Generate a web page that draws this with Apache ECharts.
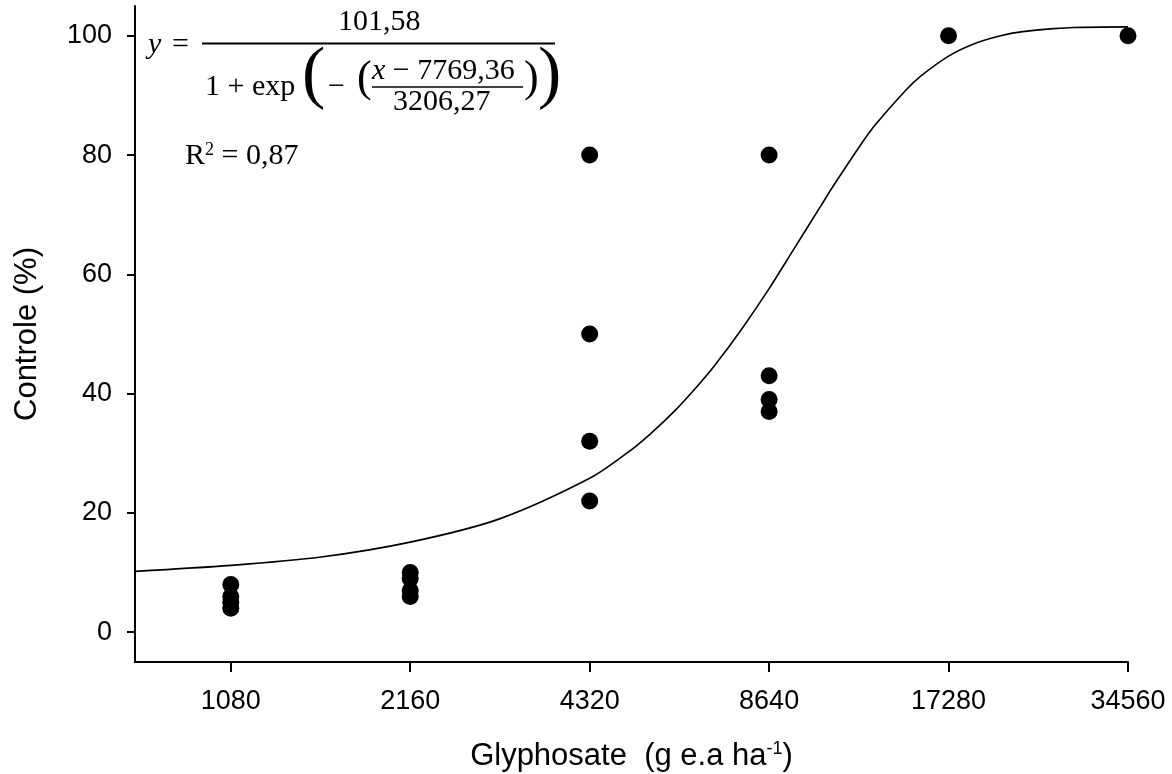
<!DOCTYPE html>
<html>
<head>
<meta charset="utf-8">
<script src="https://cdn.jsdelivr.net/npm/echarts@6/dist/echarts.min.js"></script>
<style>
  html, body { margin: 0; padding: 0; background: #fff; }
  #chart { width: 1172px; height: 774px; }
</style>
</head>
<body>
<div id="chart"></div>
<script>
// doses (g e.a ha-1), shown on a log2 axis
const doseTicks = [1080, 2160, 4320, 8640, 17280, 34560];
const yTicks = [0, 20, 40, 60, 80, 100];

// observed control (%) per dose
const obsDose = [1080, 1080, 1080, 1080,
                 2160, 2160, 2160, 2160,
                 4320, 4320, 4320, 4320,
                 8640, 8640, 8640, 8640,
                 17280, 34560];
const obsValue = [8, 6, 5, 4,
                  10, 9, 7, 6,
                  80, 50, 32, 22,
                  80, 43, 39, 37,
                  100, 100];

// fitted curve
const fitDose = [746, 1080, 1530, 2160, 3050, 4320, 5000, 5440, 6000, 6530, 7000, 7769,
                 8640, 9500, 10570, 11000, 12300, 13000, 14620, 15500, 17280, 19000,
                 21120, 23000, 25950, 28000, 34560];
const fitValue = [10.2, 11.2, 12.6, 15.1, 19.0, 25.8, 30.1, 33.1, 37.1, 41.1, 44.7, 50.8,
                  57.6, 64.2, 71.6, 74.4, 81.7, 85.0, 90.8, 93.2, 96.6, 98.6,
                  100.0, 100.7, 101.2, 101.4, 101.5];

const base = doseTicks[0];
const pos = d => Math.log2(d / base);

const chart = echarts.init(document.getElementById('chart'));

const serif = 'Liberation Serif';
const txt = (text, left, top, size, extra) => Object.assign({
  type: 'text', left: left, top: top,
  style: { text: text, font: size + 'px "' + serif + '"', fill: '#000' }
}, extra || {});

chart.setOption({
  backgroundColor: '#fff',
  animation: false,
  grid: { left: 135, right: 44, top: 6, bottom: 112, outerBoundsMode: 'none', containLabel: false },
  xAxis: {
    type: 'value',
    min: pos(746),
    max: pos(34560),
    splitLine: { show: false },
    axisLine: { onZero: false, lineStyle: { color: '#000', width: 2 } },
    axisTick: { length: 10, customValues: doseTicks.map(pos), lineStyle: { color: '#000', width: 2 } },
    axisLabel: {
      customValues: doseTicks.map(pos),
      formatter: v => String(Math.round(base * Math.pow(2, v))),
      fontFamily: 'Liberation Sans', fontSize: 27, color: '#000', margin: 26
    },
    name: '{a|Glyphosate  (g e.a ha}{s|-1}{a|)}',
    nameLocation: 'middle',
    nameGap: 78,
    nameTextStyle: {
      rich: {
        a: { fontFamily: 'Liberation Sans', fontSize: 31, color: '#000' },
        s: { fontFamily: 'Liberation Sans', fontSize: 18, color: '#000', verticalAlign: 'top', padding: [0, 0, 14, 0] }
      }
    }
  },
  yAxis: {
    type: 'value',
    min: -5,
    max: 105,
    splitLine: { show: false },
    axisLine: { onZero: false, lineStyle: { color: '#000', width: 2 } },
    axisTick: { length: 8, customValues: yTicks, lineStyle: { color: '#000', width: 2 } },
    axisLabel: {
      customValues: yTicks,
      fontFamily: 'Liberation Sans', fontSize: 27, color: '#000', margin: 23
    },
    name: 'Controle (%)',
    nameLocation: 'middle',
    nameGap: 92,
    nameTextStyle: { fontFamily: 'Liberation Sans', fontSize: 31, color: '#000' }
  },
  series: [
    {
      type: 'line',
      data: fitDose.map((d, i) => [pos(d), fitValue[i]]),
      smooth: 0.3,
      showSymbol: false,
      clip: false,
      lineStyle: { color: '#000', width: 1.6 },
      z: 2
    },
    {
      type: 'scatter',
      data: obsDose.map((d, i) => [pos(d), obsValue[i]]),
      symbolSize: 17,
      clip: false,
      itemStyle: { color: '#000', opacity: 1 },
      z: 3
    }
  ],
  graphic: [
    // fitted equation
    txt('y', 148, 30, 30, { style: { text: 'y', font: 'italic 30px "' + serif + '"', fill: '#000' } }),
    txt('=', 172, 30, 30),
    { type: 'line', shape: { x1: 202, y1: 43.5, x2: 555, y2: 43.5 }, style: { stroke: '#000', lineWidth: 2 } },
    txt('101,58', 338, 7, 30),
    txt('1 + exp', 205, 72, 30),
    txt('(', 302, 42, 70),
    txt('\u2212', 328, 72, 30),
    txt('(', 357, 57, 44),
    {
      type: 'text', left: 372, top: 56,
      style: {
        text: '{i|x} \u2212 7769,36',
        font: '30px "' + serif + '"', fill: '#000',
        rich: { i: { fontFamily: serif, fontStyle: 'italic', fontSize: 30 } }
      }
    },
    { type: 'line', shape: { x1: 372, y1: 87, x2: 523, y2: 87 }, style: { stroke: '#000', lineWidth: 1.5 } },
    txt('3206,27', 393, 87, 30),
    txt(')', 524, 57, 44),
    txt(')', 538, 42, 70),
    {
      type: 'text', left: 185, top: 141,
      style: {
        text: 'R{s|2} = 0,87',
        font: '30px "' + serif + '"', fill: '#000',
        rich: { s: { fontFamily: serif, fontSize: 18, verticalAlign: 'top', padding: [0, 0, 12, 0] } }
      }
    }
  ]
});
</script>
</body>
</html>
